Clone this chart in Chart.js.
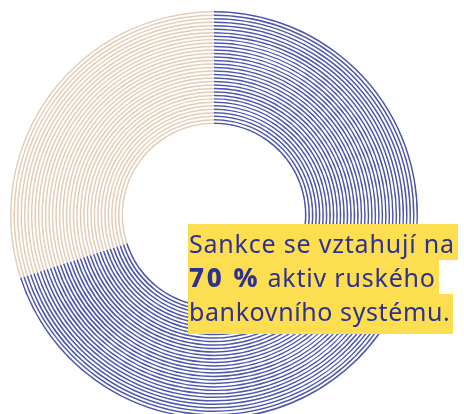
<!DOCTYPE html>
<html>
<head>
<meta charset="utf-8">
<script src="https://cdn.jsdelivr.net/npm/chart.js@4/dist/chart.umd.min.js"></script>
<style>
  html, body { margin: 0; padding: 0; background: #fff; }
  body { width: 464px; height: 414px; position: relative; overflow: hidden; }
  #wrap { position: absolute; left: 10px; top: 11px; width: 408px; height: 408px; }
  #note { position: absolute; left: 188px; top: 224px; font-family: "Noto Sans", sans-serif;
          font-size: 25px; letter-spacing: 0.8px; color: #2e3192; }
  #note div { display: table; background: #fcde50; line-height: 34px; padding: 0 3px 0 1px; white-space: nowrap; }
  #note div:first-child { padding-top: 2px; }
  #note div:last-child { padding-bottom: 6px; letter-spacing: 0.6px; }
  #note b { font-weight: 800; font-size: 26px; letter-spacing: 2.6px; }
</style>
</head>
<body>
<div id="wrap"><canvas id="ringChart"></canvas></div>
<div id="note">
  <div>Sankce se vztahují na</div>
  <div><b>70 %</b> aktiv ruského</div>
  <div>bankovního systému.</div>
</div>
<script>
  // share of russian banking assets covered by sanctions
  const labels = ['Sankce', 'Ostatní'];
  const shares = [70, 30];
  const ringColors = ['#4d56aa', '#e3cdb7'];
  const ringCount = 33;

  function build_datasets(){
    let sets = [];
    for (let i = 0; i < ringCount; i++) {
      sets.push({
        data: shares,
        backgroundColor: ringColors,
        borderWidth: 0,
        weight: 1.5,
      });
      if (i < ringCount - 1) {
        // empty gap between two lines
        sets.push({
          data: shares,
          backgroundColor: ['rgba(0,0,0,0)', 'rgba(0,0,0,0)'],
          borderWidth: 0,
          weight: 2.0,
        });
      }
    }
    return sets;
  }

  const ringChart = new Chart(document.getElementById('ringChart'), {
    type: 'doughnut',
    data: {
      labels: labels,
      datasets: build_datasets(),
    },
    options: {
      responsive: true,
      maintainAspectRatio: false,
      cutout: '44.6%',
      animation: false,
      events: [],
      layout: { padding: 0 },
      plugins: {
        legend: { display: false },
        tooltip: { enabled: false },
      },
    },
  });
</script>
</body>
</html>
